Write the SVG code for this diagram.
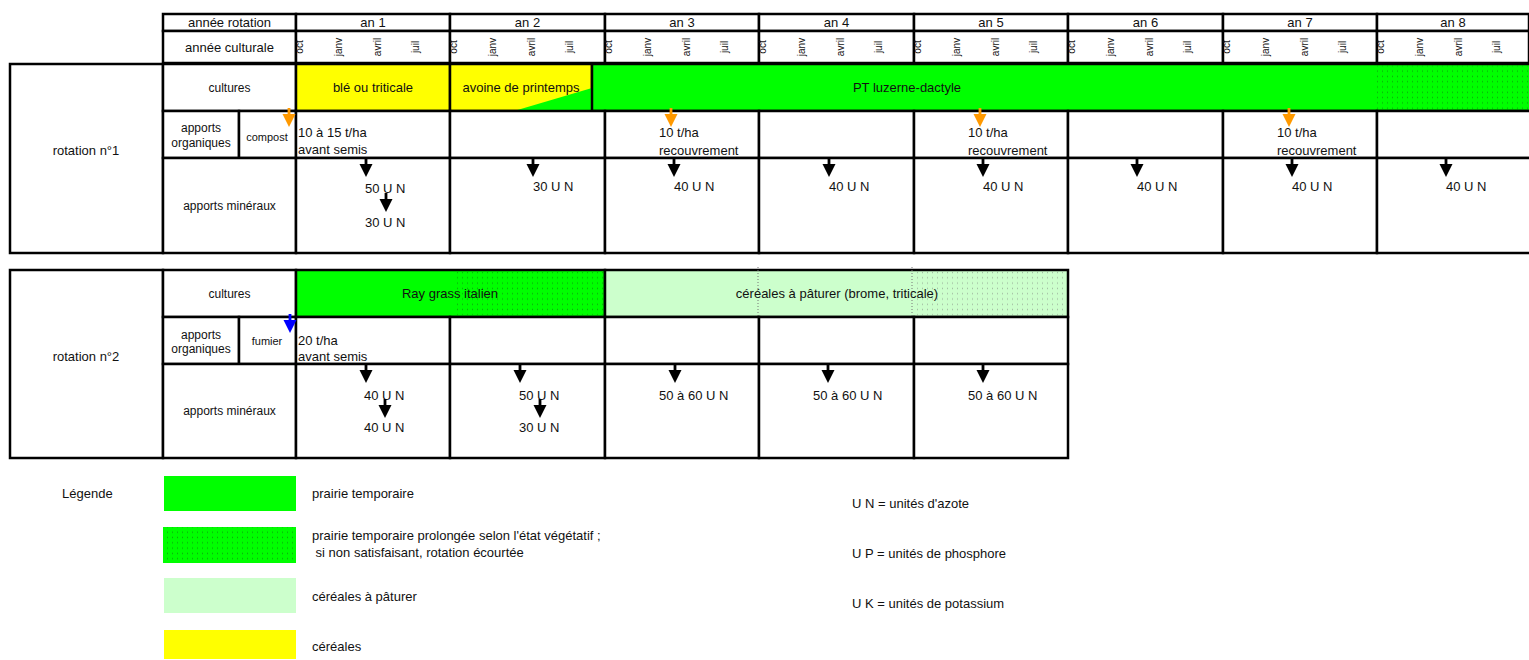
<svg xmlns="http://www.w3.org/2000/svg" xmlns:xlink="http://www.w3.org/1999/xlink" width="1529" height="660" viewBox="0 0 1529 660">
<style>
text{font-family:"Liberation Sans",Arial,sans-serif;fill:#111}
.t13{font-size:13px}
.t12{font-size:12px}
.t11{font-size:11px}
.m{font-size:10px;text-anchor:middle}
.c{text-anchor:middle}
.cell{fill:#fff;stroke:#000;stroke-width:2.5}
.yel{fill:#ffff00;stroke:#000;stroke-width:2.5}
.grn{fill:#00ff00;stroke:#000;stroke-width:2.5}
.lgr{fill:#ccffcc;stroke:#000;stroke-width:2.5}
.dl{stroke:#777;stroke-width:1;stroke-dasharray:1 2}
</style>
<defs>
<pattern id="dots" width="5" height="5.3" patternUnits="userSpaceOnUse"><rect x="2" y="1.5" width="0.9" height="1.4" fill="#1a4a1a" opacity="0.5"/></pattern>
<pattern id="dotsg" width="5" height="5.3" patternUnits="userSpaceOnUse"><rect x="2" y="1.5" width="0.9" height="1.4" fill="#777" opacity="0.55"/></pattern>
<g id="arr"><rect x="-1.4" y="0" width="2.8" height="8"/><polygon points="-6.5,6 6.5,6 0,19"/></g>
</defs>

<g id="header">
<g id="h-rot"><rect class="cell" x="163" y="14" width="133" height="17"/><text class="t13 c" x="229.5" y="27">année rotation</text></g>
<g id="h-cult"><rect class="cell" x="163" y="31" width="133" height="32"/><text class="t13 c" x="229.5" y="51.5">année culturale</text></g>
<g id="h-an1"><rect class="cell" x="296" y="14" width="154" height="17"/><rect class="cell" x="296" y="31" width="154" height="32"/><text class="t13 c" x="373" y="27">an 1</text>
<text class="m" transform="translate(303,47) rotate(-90)">oct</text><text class="m" transform="translate(342,47) rotate(-90)">janv</text><text class="m" transform="translate(381,47) rotate(-90)">avril</text><text class="m" transform="translate(419,47) rotate(-90)">juil</text></g>
<g id="h-an2"><rect class="cell" x="450" y="14" width="155" height="17"/><rect class="cell" x="450" y="31" width="155" height="32"/><text class="t13 c" x="527.5" y="27">an 2</text>
<text class="m" transform="translate(457,47) rotate(-90)">oct</text><text class="m" transform="translate(496,47) rotate(-90)">janv</text><text class="m" transform="translate(535,47) rotate(-90)">avril</text><text class="m" transform="translate(573,47) rotate(-90)">juil</text></g>
<g id="h-an3"><rect class="cell" x="605" y="14" width="154" height="17"/><rect class="cell" x="605" y="31" width="154" height="32"/><text class="t13 c" x="682" y="27">an 3</text>
<text class="m" transform="translate(612,47) rotate(-90)">oct</text><text class="m" transform="translate(651,47) rotate(-90)">janv</text><text class="m" transform="translate(690,47) rotate(-90)">avril</text><text class="m" transform="translate(728,47) rotate(-90)">juil</text></g>
<g id="h-an4"><rect class="cell" x="759" y="14" width="155" height="17"/><rect class="cell" x="759" y="31" width="155" height="32"/><text class="t13 c" x="836.5" y="27">an 4</text>
<text class="m" transform="translate(766,47) rotate(-90)">oct</text><text class="m" transform="translate(805,47) rotate(-90)">janv</text><text class="m" transform="translate(844,47) rotate(-90)">avril</text><text class="m" transform="translate(882,47) rotate(-90)">juil</text></g>
<g id="h-an5"><rect class="cell" x="914" y="14" width="154" height="17"/><rect class="cell" x="914" y="31" width="154" height="32"/><text class="t13 c" x="991" y="27">an 5</text>
<text class="m" transform="translate(921,47) rotate(-90)">oct</text><text class="m" transform="translate(960,47) rotate(-90)">janv</text><text class="m" transform="translate(999,47) rotate(-90)">avril</text><text class="m" transform="translate(1037,47) rotate(-90)">juil</text></g>
<g id="h-an6"><rect class="cell" x="1068" y="14" width="155" height="17"/><rect class="cell" x="1068" y="31" width="155" height="32"/><text class="t13 c" x="1145.5" y="27">an 6</text>
<text class="m" transform="translate(1075,47) rotate(-90)">oct</text><text class="m" transform="translate(1114,47) rotate(-90)">janv</text><text class="m" transform="translate(1153,47) rotate(-90)">avril</text><text class="m" transform="translate(1191,47) rotate(-90)">juil</text></g>
<g id="h-an7"><rect class="cell" x="1223" y="14" width="154" height="17"/><rect class="cell" x="1223" y="31" width="154" height="32"/><text class="t13 c" x="1300" y="27">an 7</text>
<text class="m" transform="translate(1230,47) rotate(-90)">oct</text><text class="m" transform="translate(1269,47) rotate(-90)">janv</text><text class="m" transform="translate(1308,47) rotate(-90)">avril</text><text class="m" transform="translate(1346,47) rotate(-90)">juil</text></g>
<g id="h-an8"><rect class="cell" x="1377" y="14" width="152" height="17"/><rect class="cell" x="1377" y="31" width="152" height="32"/><text class="t13 c" x="1453" y="27">an 8</text>
<text class="m" transform="translate(1384,47) rotate(-90)">oct</text><text class="m" transform="translate(1423,47) rotate(-90)">janv</text><text class="m" transform="translate(1462,47) rotate(-90)">avril</text><text class="m" transform="translate(1500,47) rotate(-90)">juil</text></g>
</g>

<g id="rotation1">
<g id="r1-label"><rect class="cell" x="10" y="64" width="153" height="189"/><text class="t13 c" x="86" y="155">rotation n°1</text></g>
<g id="r1-cultures-label"><rect class="cell" x="163" y="64" width="133" height="47"/><text class="t12 c" x="229.5" y="92">cultures</text></g>
<g id="r1-org-label"><rect class="cell" x="163" y="111" width="76" height="47"/><text class="t12 c" x="201" y="132">apports</text><text class="t12 c" x="201" y="147">organiques</text></g>
<g id="r1-compost"><rect class="cell" x="239" y="111" width="57" height="47"/><text class="t11 c" x="267" y="141">compost</text></g>
<g id="r1-min-label"><rect class="cell" x="163" y="158" width="133" height="95"/><text class="t12 c" x="229.5" y="210">apports minéraux</text></g>
<g id="r1-ble"><rect class="yel" x="296" y="64" width="154" height="47"/><text class="t13 c" x="373" y="92">blé ou triticale</text></g>
<g id="r1-avoine"><rect class="yel" x="450" y="64" width="142" height="47"/><polygon points="514,111 592,88 592,111" fill="#00ff00"/><text class="t13 c" x="521" y="92">avoine de printemps</text></g>
<g id="r1-pt"><rect class="grn" x="592" y="64" width="940" height="47"/><rect x="1377" y="65.5" width="152" height="44" fill="url(#dots)"/><text class="t13 c" x="907" y="92">PT luzerne-dactyle</text></g>
<g id="r1-org-an1"><rect class="cell" x="296" y="111" width="154" height="47"/><text class="t13" x="298" y="137">10 à 15 t/ha</text><text class="t13" x="298" y="154">avant semis</text></g>
<g id="r1-org-an2"><rect class="cell" x="450" y="111" width="155" height="47"/></g>
<g id="r1-org-an3"><rect class="cell" x="605" y="111" width="154" height="47"/><text class="t13" x="659" y="137">10 t/ha</text><text class="t13" x="659" y="155">recouvrement</text></g>
<g id="r1-org-an4"><rect class="cell" x="759" y="111" width="155" height="47"/></g>
<g id="r1-org-an5"><rect class="cell" x="914" y="111" width="154" height="47"/><text class="t13" x="968" y="137">10 t/ha</text><text class="t13" x="968" y="155">recouvrement</text></g>
<g id="r1-org-an6"><rect class="cell" x="1068" y="111" width="155" height="47"/></g>
<g id="r1-org-an7"><rect class="cell" x="1223" y="111" width="154" height="47"/><text class="t13" x="1277" y="137">10 t/ha</text><text class="t13" x="1277" y="155">recouvrement</text></g>
<g id="r1-org-an8"><rect class="cell" x="1377" y="111" width="155" height="47"/></g>
<g id="r1-min-an1"><rect class="cell" x="296" y="158" width="154" height="95"/><text class="t13" x="365" y="193">50 U N</text><text class="t13" x="365" y="227">30 U N</text></g>
<g id="r1-min-an2"><rect class="cell" x="450" y="158" width="155" height="95"/><text class="t13" x="533" y="191">30 U N</text></g>
<g id="r1-min-an3"><rect class="cell" x="605" y="158" width="154" height="95"/><text class="t13" x="674" y="191">40 U N</text></g>
<g id="r1-min-an4"><rect class="cell" x="759" y="158" width="155" height="95"/><text class="t13" x="829" y="191">40 U N</text></g>
<g id="r1-min-an5"><rect class="cell" x="914" y="158" width="154" height="95"/><text class="t13" x="983" y="191">40 U N</text></g>
<g id="r1-min-an6"><rect class="cell" x="1068" y="158" width="155" height="95"/><text class="t13" x="1137" y="191">40 U N</text></g>
<g id="r1-min-an7"><rect class="cell" x="1223" y="158" width="154" height="95"/><text class="t13" x="1292" y="191">40 U N</text></g>
<g id="r1-min-an8"><rect class="cell" x="1377" y="158" width="155" height="95"/><text class="t13" x="1446" y="191">40 U N</text></g>
</g>

<g id="rotation2">
<g id="r2-label"><rect class="cell" x="10" y="270" width="153" height="188"/><text class="t13 c" x="86" y="361">rotation n°2</text></g>
<g id="r2-cultures-label"><rect class="cell" x="163" y="270" width="133" height="47"/><text class="t12 c" x="229.5" y="298">cultures</text></g>
<g id="r2-org-label"><rect class="cell" x="163" y="317" width="76" height="47"/><text class="t12 c" x="201" y="339">apports</text><text class="t12 c" x="201" y="353">organiques</text></g>
<g id="r2-fumier"><rect class="cell" x="239" y="317" width="57" height="47"/><text class="t11 c" x="267" y="345">fumier</text></g>
<g id="r2-min-label"><rect class="cell" x="163" y="364" width="133" height="94"/><text class="t12 c" x="229.5" y="415">apports minéraux</text></g>
<g id="r2-raygrass"><rect class="grn" x="296" y="270" width="309" height="47"/><rect x="455" y="272" width="148" height="43" fill="url(#dots)"/><text class="t13 c" x="450" y="298">Ray grass italien</text></g>
<g id="r2-cereales"><rect class="lgr" x="605" y="270" width="463" height="47"/><rect x="914" y="271.5" width="152.5" height="44" fill="url(#dotsg)"/><line class="dl" x1="758" y1="267" x2="758" y2="316"/><line class="dl" x1="912" y1="267" x2="912" y2="316"/><text class="t13 c" x="837" y="298">céréales à pâturer (brome, triticale)</text></g>
<g id="r2-org-an1"><rect class="cell" x="296" y="317" width="154" height="47"/><text class="t13" x="298" y="345">20 t/ha</text><text class="t13" x="298" y="361">avant semis</text></g>
<g id="r2-org-an2"><rect class="cell" x="450" y="317" width="155" height="47"/></g>
<g id="r2-org-an3"><rect class="cell" x="605" y="317" width="154" height="47"/></g>
<g id="r2-org-an4"><rect class="cell" x="759" y="317" width="155" height="47"/></g>
<g id="r2-org-an5"><rect class="cell" x="914" y="317" width="154" height="47"/></g>
<g id="r2-min-an1"><rect class="cell" x="296" y="364" width="154" height="94"/><text class="t13" x="364" y="400">40 U N</text><text class="t13" x="364" y="432">40 U N</text></g>
<g id="r2-min-an2"><rect class="cell" x="450" y="364" width="155" height="94"/><text class="t13" x="519" y="400">50 U N</text><text class="t13" x="519" y="432">30 U N</text></g>
<g id="r2-min-an3"><rect class="cell" x="605" y="364" width="154" height="94"/><text class="t13" x="659" y="400">50 à 60 U N</text></g>
<g id="r2-min-an4"><rect class="cell" x="759" y="364" width="155" height="94"/><text class="t13" x="813" y="400">50 à 60 U N</text></g>
<g id="r2-min-an5"><rect class="cell" x="914" y="364" width="154" height="94"/><text class="t13" x="968" y="400">50 à 60 U N</text></g>
</g>

<g id="connectors">
<use xlink:href="#arr" href="#arr" x="289" y="108" fill="#ff9900"/>
<use xlink:href="#arr" href="#arr" x="671" y="108" fill="#ff9900"/>
<use xlink:href="#arr" href="#arr" x="980" y="108" fill="#ff9900"/>
<use xlink:href="#arr" href="#arr" x="1289" y="108" fill="#ff9900"/>
<use xlink:href="#arr" href="#arr" x="290" y="314" fill="#0000ff"/>
<use xlink:href="#arr" href="#arr" x="366" y="158" fill="#000"/>
<use xlink:href="#arr" href="#arr" x="386" y="193" fill="#000"/>
<use xlink:href="#arr" href="#arr" x="533" y="158" fill="#000"/>
<use xlink:href="#arr" href="#arr" x="674" y="158" fill="#000"/>
<use xlink:href="#arr" href="#arr" x="829" y="158" fill="#000"/>
<use xlink:href="#arr" href="#arr" x="983" y="158" fill="#000"/>
<use xlink:href="#arr" href="#arr" x="1137" y="158" fill="#000"/>
<use xlink:href="#arr" href="#arr" x="1292" y="158" fill="#000"/>
<use xlink:href="#arr" href="#arr" x="1446" y="158" fill="#000"/>
<use xlink:href="#arr" href="#arr" x="366" y="364" fill="#000"/>
<use xlink:href="#arr" href="#arr" x="385" y="399" fill="#000"/>
<use xlink:href="#arr" href="#arr" x="520" y="364" fill="#000"/>
<use xlink:href="#arr" href="#arr" x="540" y="399" fill="#000"/>
<use xlink:href="#arr" href="#arr" x="675" y="364" fill="#000"/>
<use xlink:href="#arr" href="#arr" x="828" y="364" fill="#000"/>
<use xlink:href="#arr" href="#arr" x="983" y="364" fill="#000"/>
</g>

<g id="legend">
<text class="t13" x="62" y="498">Légende</text>
<g id="lg-pt"><rect x="164" y="476" width="132" height="35" fill="#00ff00"/><text class="t13" x="312" y="498">prairie temporaire</text></g>
<g id="lg-ptp"><rect x="163" y="527" width="133" height="36" fill="#00ff00"/><rect x="163" y="527" width="133" height="36" fill="url(#dots)"/><text class="t13" x="312" y="540">prairie temporaire prolongée selon l'état végétatif ;</text><text class="t13" x="312" y="557" xml:space="preserve"> si non satisfaisant, rotation écourtée</text></g>
<g id="lg-cp"><rect x="164" y="578" width="132" height="35" fill="#ccffcc"/><text class="t13" x="312" y="601">céréales à pâturer</text></g>
<g id="lg-c"><rect x="164" y="630" width="132" height="29" fill="#ffff00"/><text class="t13" x="312" y="651">céréales</text></g>
<text class="t13" x="852" y="508">U N = unités d'azote</text>
<text class="t13" x="852" y="558">U P = unités de phosphore</text>
<text class="t13" x="852" y="608">U K = unités de potassium</text>
</g>
</svg>
